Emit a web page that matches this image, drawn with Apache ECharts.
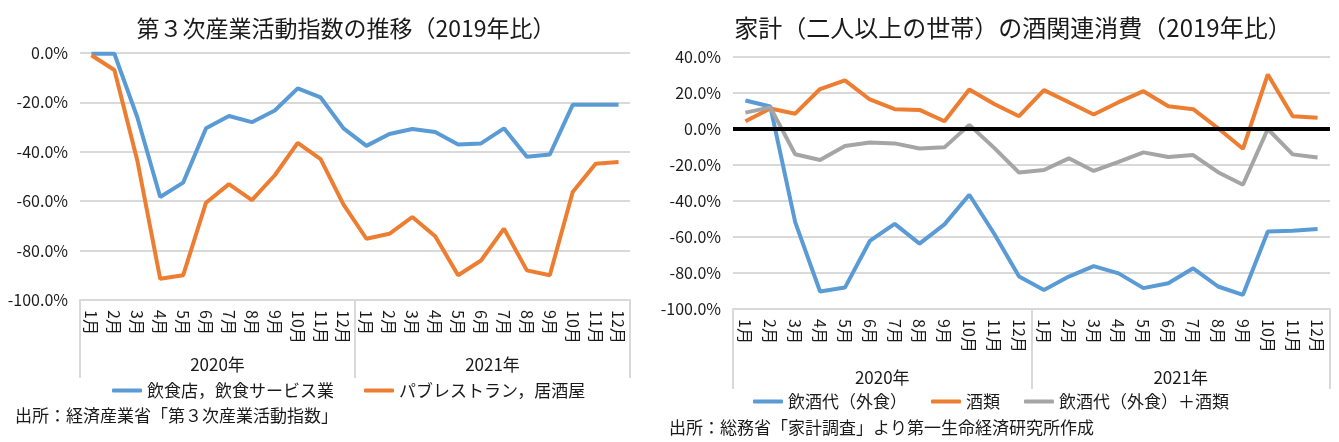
<!DOCTYPE html>
<html><head><meta charset="utf-8">
<script src="https://cdn.jsdelivr.net/npm/echarts@6/dist/echarts.min.js"></script>
<style>html,body{margin:0;padding:0;background:#fff}#c{width:1339px;height:442px}</style>
</head><body><div id="c"></div>
<script>
const months = ['1月','2月','3月','4月','5月','6月','7月','8月','9月','10月','11月','12月','1月','2月','3月','4月','5月','6月','7月','8月','9月','10月','11月','12月'];
const years = ['2020年','2021年'];
const leftTickLabels = [0,-20,-40,-60,-80,-100];
const rightTickLabels = [40,20,0,-20,-40,-60,-80,-100];

// 左：第３次産業活動指数
const inshokuten = [-0.3,-0.3,-26,-58.3,-52.5,-30.5,-25.5,-28,-23.3,-14.3,-18,-30.5,-37.6,-32.8,-30.8,-32,-37,-36.6,-30.5,-42,-41.1,-21,-21,-21];
const pubIzakaya = [-0.9,-6.9,-43.5,-91.4,-90,-60.6,-53.1,-59.6,-49.5,-36.4,-43,-61.4,-75.2,-73.2,-66.4,-74.2,-90,-84,-71.1,-88,-90,-56.3,-44.8,-44.1];

// 右：家計の酒関連消費
const inshudai = [15.8,12.5,-51.7,-90.3,-88.1,-62.2,-52.7,-63.7,-53,-36.5,-58.2,-82,-89.4,-82,-76.2,-80.2,-88.4,-85.7,-77.4,-87.5,-92.1,-56.9,-56.5,-55.6];
const sakerui = [4.3,11.4,8.5,22.2,27,16.4,11,10.6,4.3,22,13.9,7.1,21.6,14.9,8.1,14.9,21,12.6,11,0.4,-11,30.3,7.1,6.2];
const goukei = [9.1,12,-14,-17.2,-9.5,-7.5,-8,-10.8,-10.2,2.3,-10.5,-24.2,-22.8,-16.3,-23.3,-18.3,-13,-15.6,-14.5,-24,-31,0,-14.1,-15.8];

const FONT = '"Noto Sans CJK JP", "Noto Sans", sans-serif';
const TXT = '#1a1a1a';
const GRID = '#d9d9d9';
const C_BLUE = '#5b9bd5', C_ORANGE = '#ed7d31', C_GRAY = '#a5a5a5';

function monthAxis(gi){
  return {type:'category', gridIndex:gi, data:months, position:'bottom', offset:0,
    boundaryGap:true,
    axisLine:{show:true, onZero:false, lineStyle:{color:GRID, width:2}},
    axisTick:{show:false},
    axisLabel:{interval:0, rotate:-90, margin:10, fontSize:16, color:TXT, fontFamily:FONT}};
}
function yearAxis(gi, tickLen, margin){
  return {type:'category', gridIndex:gi, data:years, position:'bottom', offset:0,
    boundaryGap:true,
    axisLine:{show:false, onZero:false},
    axisTick:{show:true, interval:0, length:tickLen, lineStyle:{color:GRID, width:2}},
    axisLabel:{interval:0, margin:margin, fontSize:17, color:TXT, fontFamily:FONT}};
}
function valAxis(gi, mn, mx){
  return {type:'value', gridIndex:gi, min:mn, max:mx, interval:20,
    axisLine:{show:false}, axisTick:{show:false},
    splitLine:{lineStyle:{color:GRID, width:2}},
    axisLabel:{margin:12, fontSize:16, color:TXT, fontFamily:FONT,
      formatter:v=>v.toFixed(1)+'%'}};
}
function line(name, data, color, xi, yi){
  return {name, type:'line', data, xAxisIndex:xi, yAxisIndex:yi, symbol:'none',
    lineStyle:{color, width:4}, itemStyle:{color}, animation:false};
}

const chart = echarts.init(document.getElementById('c'), null, {renderer:'canvas'});
const rightSake = line('酒類', sakerui, C_ORANGE, 2, 1);
rightSake.markLine = {silent:true, symbol:'none', label:{show:false},
  lineStyle:{color:'#000', width:4, type:'solid'}, data:[{yAxis:0}]};

chart.setOption({
  animation:false,
  textStyle:{fontFamily:FONT},
  title:[
    {text:'第３次産業活動指数の推移（2019年比）', left:341, textAlign:'center', top:12,
      textStyle:{fontSize:23, fontWeight:'normal', color:TXT, fontFamily:FONT}},
    {text:'家計（二人以上の世帯）の酒関連消費（2019年比）', left:1008, textAlign:'center', top:11,
      textStyle:{fontSize:24, fontWeight:'normal', color:TXT, fontFamily:FONT}},
    {text:'出所：経済産業省「第３次産業活動指数」', left:10, top:402,
      textStyle:{fontSize:17, fontWeight:'normal', color:TXT, fontFamily:FONT}},
    {text:'出所：総務省「家計調査」より第一生命経済研究所作成', left:664, top:414,
      textStyle:{fontSize:17, fontWeight:'normal', color:TXT, fontFamily:FONT}}
  ],
  legend:[
    {data:['飲食店，飲食サービス業','パブレストラン，居酒屋'], left:107, top:377,
      icon:'roundRect', itemWidth:30, itemHeight:4, itemGap:30,
      textStyle:{fontSize:17, color:TXT, fontFamily:FONT}},
    {data:['飲酒代（外食）','酒類','飲酒代（外食）＋酒類'], left:748, top:388,
      icon:'roundRect', itemWidth:30, itemHeight:4, itemGap:24,
      textStyle:{fontSize:17, color:TXT, fontFamily:FONT}}
  ],
  grid:[
    {left:80, top:53, width:550, height:247},
    {left:733, top:57, width:597, height:252}
  ],
  xAxis:[monthAxis(0), yearAxis(0, 78, 56), monthAxis(1), yearAxis(1, 80, 60)],
  yAxis:[valAxis(0, -100, 0), valAxis(1, -100, 40)],
  series:[
    line('飲食店，飲食サービス業', inshokuten, C_BLUE, 0, 0),
    line('パブレストラン，居酒屋', pubIzakaya, C_ORANGE, 0, 0),
    line('飲酒代（外食）', inshudai, C_BLUE, 2, 1),
    rightSake,
    line('飲酒代（外食）＋酒類', goukei, C_GRAY, 2, 1)
  ]
});
</script></body></html>
